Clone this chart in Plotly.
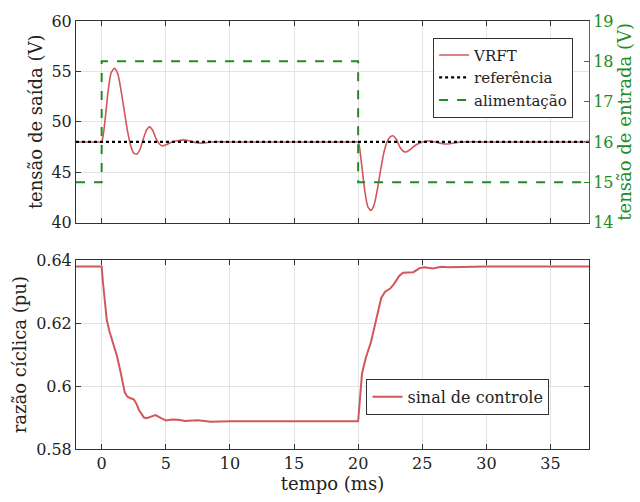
import plotly.graph_objects as go

# ---- data ----
t_vrft = [-2, -1, -0.3, 0, 0.25, 0.5, 0.75, 1.0, 1.25, 1.5, 1.75, 2.0, 2.25, 2.5, 2.75, 3.0, 3.25, 3.5, 3.75,
          4.0, 4.25, 4.5, 4.75, 5.0, 5.5, 6.0, 6.5, 7.0, 7.5, 8.0, 8.5, 9.0, 10.0, 12.0, 14.0, 16.0,
          18.0, 19.0, 19.7, 20.0,
          20.25, 20.5, 20.75, 21.0, 21.25, 21.5, 21.75, 22.0, 22.25, 22.5, 22.75, 23.0, 23.25,
          23.5, 23.75, 24.0, 24.5, 25.0, 25.5, 26.0, 26.5, 27.0, 27.5, 28.0, 29.0, 30.0, 32.0,
          34.0, 36.0, 38.0]
v_vrft = [48, 48, 48, 48, 50.0, 53.0, 54.9, 55.3, 54.8, 53.2, 51.2, 49.2, 47.7, 46.9, 46.8, 47.3, 48.3, 49.2, 49.5,
          49.1, 48.3, 47.8, 47.6, 47.7, 48.0, 48.15, 48.2, 48.05, 47.9, 47.9, 48.0, 48.02, 48.0, 48.0, 48.0, 48.0,
          48.0, 48.0, 48.0, 48.0,
          46.0, 43.3, 41.6, 41.2, 41.8, 43.3, 45.2, 46.9, 48.0, 48.5, 48.6, 48.2, 47.5,
          47.1, 47.0, 47.2, 47.7, 48.0, 48.1, 48.0, 47.85, 47.8, 47.9, 48.0, 48.02, 48.0, 48.0,
          48.0, 48.0, 48.0]

t_ref = [-2, 38]
v_ref = [48, 48]

t_sup = [-2, 0, 0, 20, 20, 38]
v_sup = [15, 15, 18, 18, 15, 15]

t_ctrl = [-2, 0, 0.1, 0.25, 0.4, 0.6, 0.8, 1.0, 1.2, 1.5, 1.8, 2.0, 2.2, 2.5, 2.7, 2.9, 3.1, 3.3, 3.5,
          3.8, 4.2, 4.6, 5.0, 5.5, 6.0, 6.5, 7.5, 8.5, 10.0, 20.0,
          20.1, 20.2, 20.3, 20.6, 21.0, 21.4, 21.8, 22.1, 22.5, 22.8, 23.2, 23.5, 24.0, 24.3, 24.8,
          25.2, 25.8, 26.5, 27.0, 28.0, 29.0, 30.0, 38.0]
v_ctrl = [0.638, 0.638, 0.633, 0.626, 0.621, 0.6175, 0.615, 0.6125, 0.6095, 0.604, 0.598, 0.5967,
          0.5962, 0.5958, 0.5945, 0.5925, 0.591, 0.590, 0.5898, 0.5903, 0.5908, 0.5899, 0.5891, 0.5894,
          0.5893, 0.5889, 0.5891, 0.5887, 0.5888, 0.5888,
          0.594, 0.600, 0.604, 0.609, 0.614, 0.621, 0.628, 0.630, 0.631, 0.6325, 0.635, 0.636, 0.636,
          0.6362, 0.6375, 0.6378, 0.6374, 0.6379, 0.6378, 0.6379, 0.6378, 0.638, 0.638]

x_ticks = [0, 5, 10, 15, 20, 25, 30, 35]

RED = "#d2575b"
GREEN = "#228b22"
AX = "#333333"
GRID = "#e3e3e3"
FONT = "DejaVu Serif"
FS = 16
TS = 18

fig = go.Figure()
fig.add_trace(go.Scatter(x=t_vrft, y=v_vrft, mode="lines", name="VRFT",
                         line=dict(color=RED, width=1.6, shape="spline", smoothing=0.6),
                         xaxis="x", yaxis="y", legend="legend"))
fig.add_trace(go.Scatter(x=t_ref, y=v_ref, mode="lines", name="referência",
                         line=dict(color="black", width=2.2, dash="dot"),
                         xaxis="x", yaxis="y", legend="legend"))
fig.add_trace(go.Scatter(x=t_sup, y=v_sup, mode="lines", name="alimentação",
                         line=dict(color=GREEN, width=2, dash="dash"),
                         xaxis="x", yaxis="y2", legend="legend"))
fig.add_trace(go.Scatter(x=t_ctrl, y=v_ctrl, mode="lines", name="sinal de controle",
                         line=dict(color=RED, width=2),
                         xaxis="x2", yaxis="y3", legend="legend2"))

axis_common = dict(showline=True, linecolor=AX, linewidth=1, ticks="inside", ticklen=5,
                   tickcolor=AX, showgrid=True, gridcolor=GRID, gridwidth=1, zeroline=False,
                   tickfont=dict(family=FONT, size=FS, color="#222"))

tfont = dict(family=FONT, size=TS, color="#222")

fig.update_layout(
    width=640, height=502,
    margin=dict(l=76, r=47, t=16, b=53),
    paper_bgcolor="white", plot_bgcolor="white",
    font=dict(family=FONT, size=FS, color="#222"),
    xaxis=dict(domain=[0, 1], range=[-2, 38], tickvals=x_ticks, showticklabels=False,
               mirror="ticks", anchor="y", **axis_common),
    yaxis=dict(domain=[0.529, 1], range=[40, 60], tickvals=[40, 45, 50, 55, 60],
               title=dict(text="tensão de saída (V)", font=tfont, standoff=4),
               anchor="x", **axis_common),
    yaxis2=dict(overlaying="y", side="right", range=[14, 19], tickvals=[14, 15, 16, 17, 18, 19],
                showline=True, linecolor=GREEN, linewidth=1, ticks="inside", ticklen=5, tickcolor=GREEN,
                showgrid=False, zeroline=False,
                tickfont=dict(family=FONT, size=FS, color=GREEN),
                title=dict(text="tensão de entrada (V)", font=dict(family=FONT, size=TS, color=GREEN), standoff=2),
                anchor="x"),
    xaxis2=dict(domain=[0, 1], range=[-2, 38], tickvals=x_ticks, mirror="ticks", anchor="y3",
                title=dict(text="tempo (ms)", font=tfont, standoff=2),
                **axis_common),
    yaxis3=dict(domain=[0, 0.441], range=[0.58, 0.64], tickvals=[0.58, 0.60, 0.62, 0.64],
                ticktext=["0.58", "0.6", "0.62", "0.64"], mirror="ticks", anchor="x2",
                title=dict(text="razão cíclica (pu)", font=tfont, standoff=4),
                **axis_common),
    legend=dict(x=0.969, y=0.961, xanchor="right", yanchor="top", bgcolor="white",
                bordercolor=AX, borderwidth=1, font=dict(family=FONT, size=15, color="#222"),
                tracegroupgap=0, itemwidth=30),
    legend2=dict(x=0.923, y=0.164, xanchor="right", yanchor="top", bgcolor="white",
                 bordercolor=AX, borderwidth=1, font=dict(family=FONT, size=16, color="#222"),
                 itemwidth=30),
    showlegend=True,
)

fig.write_html("out.html")
